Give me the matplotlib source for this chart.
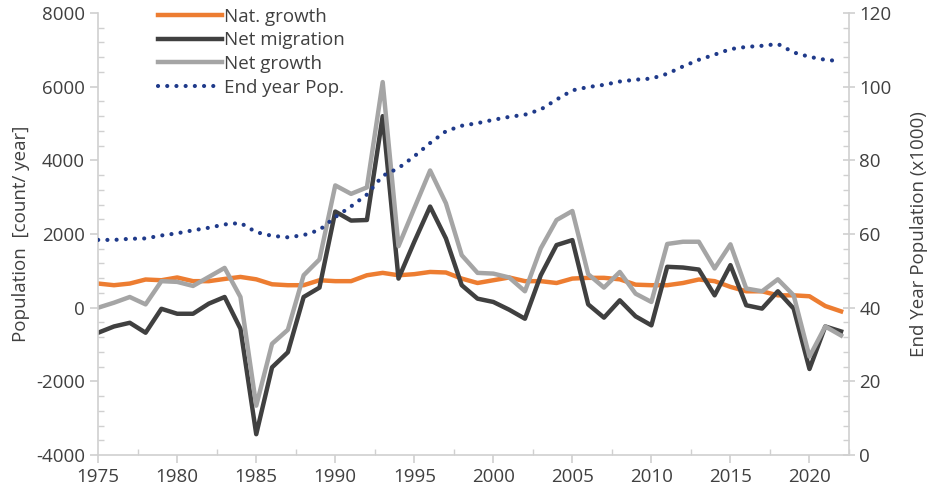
import matplotlib.pyplot as plt
from matplotlib.ticker import MultipleLocator

plt.rcParams['font.family'] = ['Open Sans', 'DejaVu Sans']
plt.rcParams['axes.unicode_minus'] = False

years = list(range(1975, 2023))

nat_growth = [655, 610, 655, 765, 745, 820, 720, 720, 780, 835,
              770, 635, 610, 610, 745, 720, 720, 880, 945, 880,
              910, 970, 955, 790, 670, 745, 820, 720, 720, 670,
              790, 810, 810, 770, 625, 610, 610, 670, 765, 720,
              565, 445, 445, 335, 335, 310, 45, -100]

net_migration = [-680, -510, -410, -680, -30, -165, -165, 110, 290, -570,
                 -3435, -1620, -1210, 290, 545, 2610, 2365, 2380, 5200, 790,
                 1790, 2745, 1880, 610, 245, 155, -55, -300, 880, 1700,
                 1835, 90, -270, 200, -235, -480, 1110, 1090, 1035, 335,
                 1155, 65, -25, 445, -25, -1665, -510, -645]

net_growth = [0, 135, 290, 90, 720, 700, 590, 835, 1080, 290,
              -2660, -980, -600, 880, 1310, 3320, 3090, 3265, 6125, 1670,
              2700, 3725, 2835, 1425, 945, 925, 820, 445, 1610, 2380,
              2625, 910, 545, 970, 380, 155, 1730, 1790, 1790, 1065,
              1720, 520, 445, 770, 335, -1330, -510, -755]

end_pop = [58.4, 58.4, 58.7, 58.8, 59.6, 60.2, 61.0, 61.7, 62.6, 63.0,
           60.5, 59.5, 59.1, 59.7, 61.1, 64.6, 67.5, 70.7, 75.8, 77.9,
           81.1, 84.7, 87.9, 89.4, 90.1, 91.0, 91.8, 92.4, 93.8, 96.5,
           99.0, 99.9, 100.5, 101.4, 101.9, 102.2, 103.5, 105.5, 107.3, 108.7,
           110.2, 110.8, 111.1, 111.6, 109.3, 108.1, 107.3, 106.9]

fig = plt.figure(figsize=(9.35, 4.91), dpi=100)
ax = fig.add_axes([0.105, 0.0733, 0.803, 0.9002])
ax2 = ax.twinx()

l1, = ax.plot(years, nat_growth, color='#ED7D31', lw=3.2, label='Nat. growth')
l2, = ax.plot(years, net_migration, color='#404040', lw=3.2, label='Net migration')
l3, = ax.plot(years, net_growth, color='#A5A5A5', lw=3.2, label='Net growth')
l4, = ax2.plot(years, end_pop, color='#1F3A8A', lw=3.0, ls=(0, (0.01, 2.2)),
               dash_capstyle='round', label='End year Pop.')

ax.set_xlim(1975, 2022.5)
ax.set_ylim(-4000, 8000)
ax2.set_ylim(0, 120)

ax.xaxis.set_major_locator(MultipleLocator(5))
ax.xaxis.set_minor_locator(MultipleLocator(2.5))
ax.yaxis.set_major_locator(MultipleLocator(2000))
ax.yaxis.set_minor_locator(MultipleLocator(400))
ax2.yaxis.set_major_locator(MultipleLocator(20))
ax2.yaxis.set_minor_locator(MultipleLocator(4))

grey = '#D0D0D0'
for a in (ax, ax2):
    for s in a.spines.values():
        s.set_color(grey)
        s.set_linewidth(1.2)
    a.spines['top'].set_visible(False)
ax.spines['right'].set_visible(False)
ax2.spines['left'].set_visible(False)
ax2.spines['bottom'].set_visible(False)

ax.tick_params(axis='both', which='both', color=grey, labelsize=13.5, labelcolor='#404040')
ax.tick_params(axis='both', which='major', length=6, width=1.2, direction='out')
ax.tick_params(axis='both', which='minor', length=4, width=1, direction='in')
ax2.tick_params(axis='y', which='both', color=grey, labelsize=13.5, labelcolor='#404040')
ax2.tick_params(axis='y', which='major', length=8, width=1.2, direction='inout')
ax2.tick_params(axis='y', which='minor', length=4, width=1, direction='in')

ax.set_ylabel('Population  [count/ year]', fontsize=13.5, color='#404040', labelpad=4)
ax2.set_ylabel('End Year Population (x1000)', fontsize=13.5, color='#404040', labelpad=13)

ax.legend(handles=[l1, l2, l3, l4], loc='upper left', bbox_to_anchor=(0.057, 1.05),
          frameon=False, fontsize=13.5, handlelength=3.4, handletextpad=0.15,
          labelspacing=0.3, labelcolor='#404040')

fig.savefig('out.png', dpi=100)
